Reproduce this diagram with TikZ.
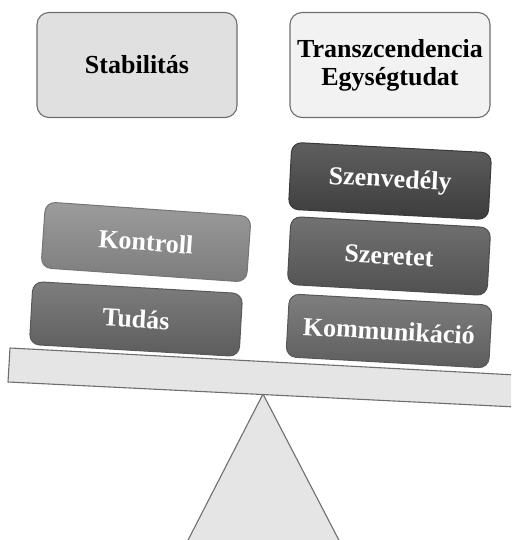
\documentclass[tikz,border=0pt]{standalone}
\usepackage{fontspec}
\setmainfont{Liberation Serif}
\usepackage{xcolor}
\usepackage{tikz}
\usetikzlibrary{positioning,calc}
\definecolor{figedge}{HTML}{6E6E6E}
\definecolor{figplank}{HTML}{E5E5E5}
\definecolor{kontrollgray}{HTML}{8A8A8A}
\definecolor{tudasgray}{HTML}{676767}
\definecolor{szenvgray}{HTML}{434343}
\definecolor{szeretgray}{HTML}{595959}
\definecolor{kommgray}{HTML}{686868}
\tikzset{
  figfont/.style={font=\bfseries\fontsize{26}{28}\selectfont},
  figbox/.style={figfont, draw=figedge, line width=1.1pt, rounded corners=12pt,
    align=center, minimum width=200pt, minimum height=105pt},
  figblock/.style={figfont, text=white, draw=#1!85!black, line width=1pt,
    rounded corners=10pt, top color=#1!85!white, bottom color=#1!90!black,
    minimum width=203pt, minimum height=65pt},
  figshape/.style={draw=figedge, fill=figplank, line width=1.1pt, line join=round},
}

\begin{document}
\begin{tikzpicture}[x=1pt, y=-1pt]
		\useasboundingbox (0,0) rectangle (511,540);
		\clip (0,0) rectangle (511,540);

		% Fulcrum
		\draw[figshape] (263,394) -- (343,548) -- (184,548) -- cycle;

		% Beam
		\draw[figshape] (10,348) -- (516,375) -- (516,407) -- (8,382) -- cycle;

		% Top labels
		\node[figbox, fill=black!12] (stab) at (137,65) {Stabilitás};
		\node[figbox, fill=black!5] (trans) at (390,65) {Transzcendencia\\Egységtudat};

		% Left stack
		\node[figblock=tudasgray, rotate=-3.3, minimum width=210pt, minimum height=63pt]
		  (tudas) at (136,319) {Tudás};
		\node[figblock=kontrollgray, rotate=-4, minimum width=206pt, minimum height=66pt]
		  (kontroll) at (146,242) {Kontroll};

		% Right stack
		\node[figblock=kommgray, rotate=-3.2, minimum height=63pt]
		  (komm) at (389,331) {Kommunikáció};
		\node[figblock=szeretgray, rotate=-3.2, minimum width=200pt, minimum height=68pt]
		  (szeret) at (389,256) {Szeretet};
		\node[figblock=szenvgray, rotate=-3, minimum width=200pt, minimum height=67pt]
		  (szenv) at (390,181) {Szenvedély};
	\end{tikzpicture}
\end{document}
